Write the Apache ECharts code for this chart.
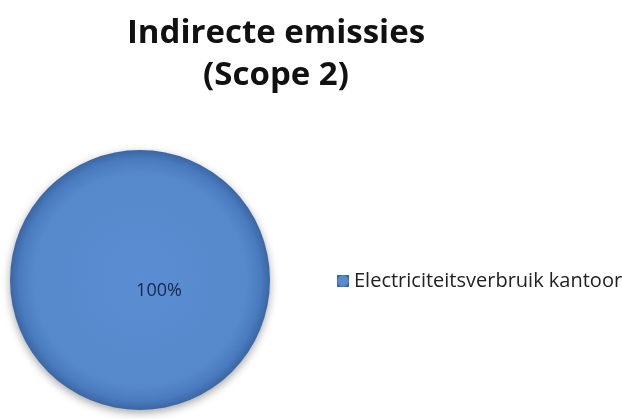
<!DOCTYPE html>
<html>
<head>
<meta charset="utf-8">
<script src="https://cdn.jsdelivr.net/npm/echarts@6/dist/echarts.min.js"></script>
<style>
	html, body { margin: 0; padding: 0; background: #fff; }
	#chart { width: 622px; height: 419px; }
</style>
</head>
<body>
<div id="chart"></div>
<script>
// data
const categories = ['Electriciteitsverbruik kantoor']
const values = [100]
const titleText = 'Indirecte emissies\n(Scope 2)'

const chart = echarts.init(document.getElementById('chart'))

const option = {
	animation: false,
	title: {
		text: titleText,
		left: 271,
		top: 8,
		textAlign: 'center',
		textStyle: {
			fontFamily: 'Open Sans',
			fontWeight: 'bold',
			fontSize: 33,
			lineHeight: 42,
			color: '#111'
		}
	},
	legend: {
		orient: 'vertical',
		left: 332,
		top: 266,
		icon: 'rect',
		itemWidth: 12,
		itemHeight: 12,
		itemGap: 6,
		textStyle: {
			fontFamily: 'Open Sans',
			fontSize: 20,
			color: '#222'
		},
		data: categories
	},
	series: [
		{
			type: 'pie',
			center: [140, 280],
			radius: 130,
			startAngle: 90,
			silent: true,
			label: {
				show: true,
				position: 'center',
				// empty first line pushes the percentage a bit below centre
				formatter: '\n{d}%',
				fontFamily: 'Open Sans',
				fontSize: 18,
				lineHeight: 22,
				color: '#18284a',
				padding: [0, 0, 0, 38]
			},
			labelLine: { show: false },
			itemStyle: {
				color: {
					type: 'radial',
					x: 0.5, y: 0.5, r: 0.5,
					colorStops: [
						{ offset: 0, color: '#5b8dd2' },
						{ offset: 0.82, color: '#5688cc' },
						{ offset: 0.93, color: '#4a7bbf' },
						{ offset: 1, color: '#3a66a3' }
					]
				},
				shadowBlur: 8,
				shadowColor: 'rgba(0,0,0,0.35)',
				shadowOffsetY: 3
			},
			data: categories.map((name, i) => ({ name: name, value: values[i] }))
		}
	]
}

chart.setOption(option)
</script>
</body>
</html>
